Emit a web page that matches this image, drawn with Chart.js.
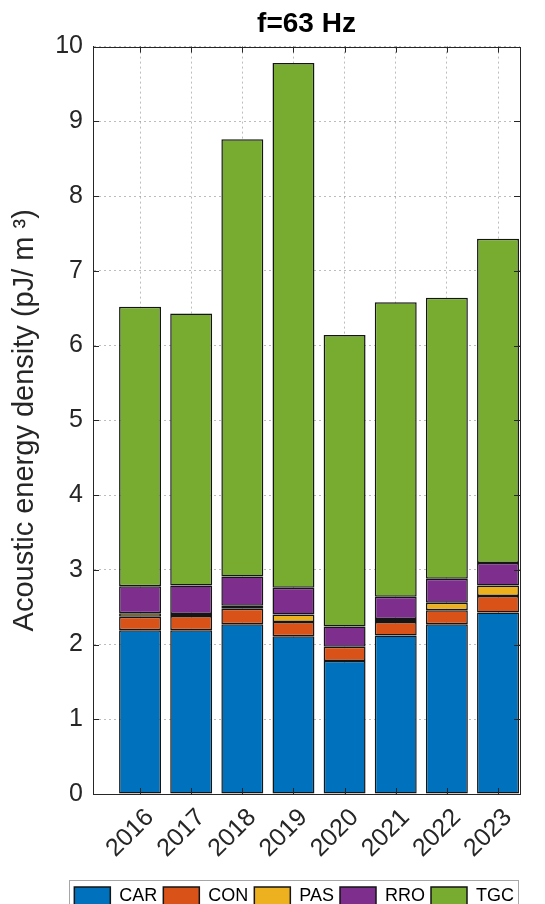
<!DOCTYPE html>
<html>
<head>
<meta charset="utf-8">
<script src="https://cdn.jsdelivr.net/npm/chart.js@4"></script>
<style>
  html, body { margin: 0; padding: 0; background: #ffffff; }
  #wrap { width: 545px; height: 904px; }
</style>
</head>
<body>
<div id="wrap"><canvas id="canvas"></canvas></div>
<script>
var years = [2016, 2017, 2018, 2019, 2020, 2021, 2022, 2023];
var car = [2.19, 2.19, 2.27, 2.11, 1.78, 2.12, 2.27, 2.43];
var con = [0.18, 0.19, 0.21, 0.19, 0.19, 0.18, 0.19, 0.22];
var pas = [0.05, 0.03, 0.04, 0.10, 0.00, 0.04, 0.10, 0.14];
var rro = [0.36, 0.38, 0.39, 0.36, 0.27, 0.30, 0.32, 0.30];
var tgc = [3.74, 3.64, 5.85, 7.02, 3.90, 3.94, 3.76, 4.34];
var yTicks = [0, 1, 2, 3, 4, 5, 6, 7, 8, 9, 10];

var axisColor = '#262626';

function points(values){
  var out = [];
  for(var i = 0;i<years.length;i++){
    out.push({x: years[i], y: values[i]});
  }
  return out;
}

function makeSet(label, values, color){
  return {
    label: label,
    data: points(values),
    backgroundColor: color,
    borderColor: '#151515',
    borderWidth: 1.5,
    borderSkipped: false,
    barPercentage: 0.82,
    categoryPercentage: 1
  };
}

// box round the axes plus the inward tick marks
var axesBox = {
  id: 'axesBox',
  afterDatasetsDraw: function(chart){
    var ctx = chart.ctx;
    var a = chart.chartArea;
    var xs = chart.scales.x;
    var ys = chart.scales.y;
    ctx.save();
    ctx.strokeStyle = axisColor;
    ctx.lineWidth = 1;
    for(var i = 0;i<yTicks.length;i++){
      var py = Math.round(ys.getPixelForValue(yTicks[i])) + 0.5;
      ctx.beginPath();
      ctx.moveTo(a.left, py); ctx.lineTo(a.left + 6, py);
      ctx.moveTo(a.right, py); ctx.lineTo(a.right - 6, py);
      ctx.stroke();
    }
    for(var j = 0;j<years.length;j++){
      var px = Math.round(xs.getPixelForValue(years[j])) + 0.5;
      ctx.beginPath();
      ctx.moveTo(px, a.bottom); ctx.lineTo(px, a.bottom - 6);
      ctx.moveTo(px, a.top); ctx.lineTo(px, a.top + 6);
      ctx.stroke();
    }
    ctx.strokeRect(Math.round(a.left) + 0.5, Math.round(a.top) + 0.5, Math.round(a.right - a.left), Math.round(a.bottom - a.top));
    ctx.restore();
  }
};

// frame round the legend, as in the original figure
var legendFrame = {
  id: 'legendFrame',
  afterDraw: function(chart){
    var boxes = chart.legend.legendHitBoxes;
    if(!boxes || !boxes.length) return;
    var l = boxes[0].left, r = 0, t = boxes[0].top, b = 0;
    for(var i = 0;i<boxes.length;i++){
      l = Math.min(l, boxes[i].left);
      r = Math.max(r, boxes[i].left + boxes[i].width);
      t = Math.min(t, boxes[i].top);
      b = Math.max(b, boxes[i].top + boxes[i].height);
    }
    var ctx = chart.ctx;
    ctx.save();
    ctx.strokeStyle = '#a6a6a6';
    ctx.lineWidth = 1;
    ctx.strokeRect(Math.round(l) - 4.5, Math.round(t) - 6.5, Math.round(r - l) + 9, Math.round(b - t) + 14);
    ctx.restore();
  }
};

var ctx = document.getElementById('canvas').getContext('2d');
var chart = new Chart(ctx, {
  type: 'bar',
  data: {
    datasets: [
      makeSet('CAR', car, '#0072BD'),
      makeSet('CON', con, '#D95319'),
      makeSet('PAS', pas, '#EDB120'),
      makeSet('RRO', rro, '#7E2F8E'),
      makeSet('TGC', tgc, '#77AC30')
    ]
  },
  options: {
    responsive: true,
    maintainAspectRatio: false,
    animation: false,
    layout: { padding: { left: 0, right: 25, top: 0, bottom: -11 } },
    plugins: {
      tooltip: { enabled: false },
      title: {
        display: true,
        text: 'f=63 Hz',
        fullSize: false,
        color: '#000000',
        font: { family: 'Liberation Sans', size: 28, weight: 'bold' },
        padding: { top: 7, bottom: 6 }
      },
      legend: {
        position: 'bottom',
        align: 'end',
        labels: {
          color: '#000000',
          font: { family: 'Liberation Sans', size: 18 },
          boxWidth: 36,
          boxHeight: 18,
          padding: 6
        }
      }
    },
    scales: {
      x: {
        type: 'linear',
        stacked: true,
        offset: false,
        min: 2015.08,
        max: 2023.43,
        afterFit: function(s){ s.height = 87; },
        grid: { color: 'rgba(38,38,38,0.3)', drawTicks: false, offset: false },
        border: { color: axisColor, width: 1, dash: [2, 3] },
        ticks: {
          stepSize: 1,
          includeBounds: false,
          autoSkip: false,
          minRotation: 45,
          maxRotation: 45,
          padding: 9,
          labelOffset: 10,
          color: axisColor,
          font: { family: 'Liberation Sans', size: 25 },
          callback: function(v){ return String(v); }
        }
      },
      y: {
        stacked: true,
        min: 0,
        max: 10,
        afterFit: function(s){ s.width = 93; },
        grid: { color: 'rgba(38,38,38,0.3)', drawTicks: false },
        border: { color: axisColor, width: 1, dash: [2, 3] },
        ticks: {
          stepSize: 1,
          padding: 10,
          color: axisColor,
          font: { family: 'Liberation Sans', size: 25 }
        },
        title: {
          display: true,
          text: 'Acoustic energy density (pJ/ m \u00B3)',
          color: axisColor,
          font: { family: 'Liberation Sans', size: 29 },
          padding: { top: 8, bottom: 4 }
        }
      }
    }
  },
  plugins: [axesBox, legendFrame]
});
</script>
</body>
</html>
